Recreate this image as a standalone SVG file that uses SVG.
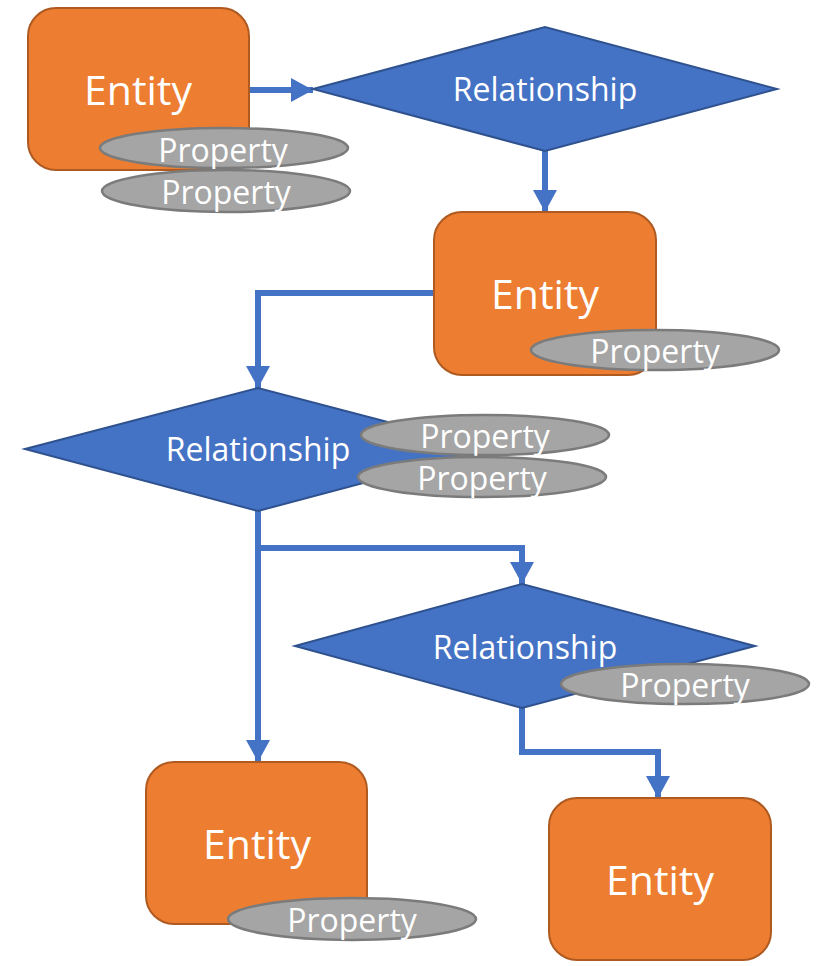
<svg xmlns="http://www.w3.org/2000/svg" width="820" height="966" viewBox="0 0 820 966">
  <style>
    .entity { fill: #ed7d31; stroke: #ae5a21; stroke-width: 2; }
    .rel { fill: #4472c4; stroke: #2f528f; stroke-width: 2; }
    .prop { fill: #a5a5a5; stroke: #7b7b7b; stroke-width: 2.5; }
    .link { fill: none; stroke: #4472c4; stroke-width: 6; marker-end: url(#arrow); }
    text { fill: #ffffff; font-family: "Open Sans", "Noto Sans", "Liberation Sans", sans-serif; text-anchor: middle; }
    .t-ent { font-size: 41px; }
    .t-rel { font-size: 32px; }
    .t-prop { font-size: 32px; }
  </style>
  <defs>
    <marker id="arrow" markerUnits="userSpaceOnUse" markerWidth="22" markerHeight="24" refX="22" refY="12" orient="auto">
      <path d="M0,0 L22,12 L0,24 Z" fill="#4472c4"/>
    </marker>
  </defs>

  <rect width="820" height="966" fill="#ffffff"/>

  <!-- connectors -->
  <g id="connectors">
    <path class="link" d="M249,90 H313"/>
    <path class="link" d="M545,151 V212"/>
    <path class="link" d="M434,293 H258 V388"/>
    <path class="link" d="M258,511 V762"/>
    <path class="link" d="M258,548 H522 V584"/>
    <path class="link" d="M522,708 V752 H658 V798"/>
  </g>

  <!-- entity 1 -->
  <g id="entity1">
    <rect class="entity" x="28" y="8" width="221" height="162" rx="28"/>
    <text class="t-ent" x="138" y="105">Entity</text>
    <ellipse class="prop" cx="224" cy="148" rx="124" ry="20"/>
    <text class="t-prop" x="223" y="162">Property</text>
    <ellipse class="prop" cx="226" cy="191" rx="124" ry="21"/>
    <text class="t-prop" x="226" y="204">Property</text>
  </g>

  <!-- relationship 1 -->
  <g id="rel1">
    <polygon class="rel" points="313,89 545,27 777,89 545,151"/>
    <text class="t-rel" x="545" y="101">Relationship</text>
  </g>

  <!-- entity 2 -->
  <g id="entity2">
    <rect class="entity" x="434" y="212" width="222" height="163" rx="28"/>
    <text class="t-ent" x="545" y="309">Entity</text>
    <ellipse class="prop" cx="655" cy="350" rx="124" ry="20"/>
    <text class="t-prop" x="655" y="363">Property</text>
  </g>

  <!-- relationship 2 -->
  <g id="rel2">
    <polygon class="rel" points="25,449 258,388 491,449 258,511"/>
    <text class="t-rel" x="258" y="461">Relationship</text>
    <ellipse class="prop" cx="485" cy="435" rx="124" ry="20"/>
    <text class="t-prop" x="485" y="448">Property</text>
    <ellipse class="prop" cx="482" cy="477" rx="124" ry="20"/>
    <text class="t-prop" x="482" y="490">Property</text>
  </g>

  <!-- relationship 3 -->
  <g id="rel3">
    <polygon class="rel" points="295,646 522,584 755,646 522,708"/>
    <text class="t-rel" x="525" y="659">Relationship</text>
    <ellipse class="prop" cx="685" cy="684" rx="124" ry="20"/>
    <text class="t-prop" x="685" y="697">Property</text>
  </g>

  <!-- entity 3 -->
  <g id="entity3">
    <rect class="entity" x="146" y="762" width="221" height="162" rx="28"/>
    <text class="t-ent" x="257" y="859">Entity</text>
    <ellipse class="prop" cx="352" cy="919" rx="124" ry="21"/>
    <text class="t-prop" x="352" y="932">Property</text>
  </g>

  <!-- entity 4 -->
  <g id="entity4">
    <rect class="entity" x="549" y="798" width="222" height="162" rx="28"/>
    <text class="t-ent" x="660" y="895">Entity</text>
  </g>
</svg>
